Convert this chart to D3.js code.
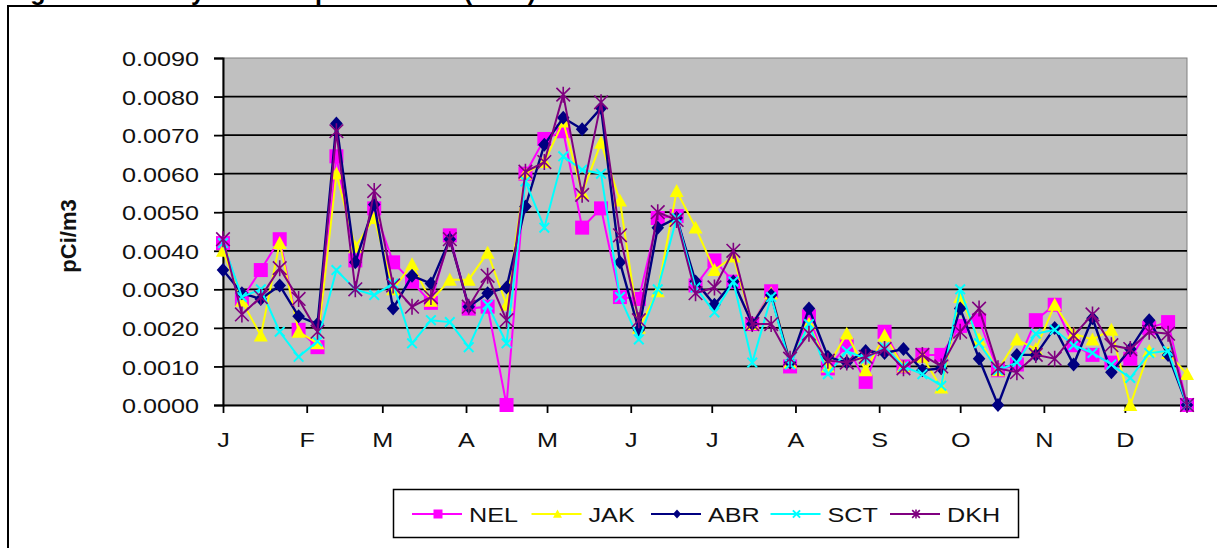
<!DOCTYPE html>
<html><head><meta charset="utf-8">
<script src="https://cdn.jsdelivr.net/npm/d3@7"></script>
<style>body{margin:0;background:#fff}svg{display:block}</style>
</head><body><svg id="c" width="1217" height="548"></svg>
<script>
// ---- data (pCi/m3), weekly samples ----
const dates = ["2003-01-01","2003-01-08","2003-01-15","2003-01-22","2003-01-29","2003-02-05","2003-02-12","2003-02-19","2003-02-26",
"2003-03-05","2003-03-12","2003-03-19","2003-03-26","2003-04-02","2003-04-09","2003-04-16","2003-04-23","2003-04-30",
"2003-05-07","2003-05-14","2003-05-21","2003-05-28","2003-06-04","2003-06-11","2003-06-18","2003-06-25",
"2003-07-02","2003-07-09","2003-07-16","2003-07-23","2003-07-30","2003-08-06","2003-08-13","2003-08-20","2003-08-27",
"2003-09-03","2003-09-10","2003-09-17","2003-09-24","2003-10-01","2003-10-08","2003-10-15","2003-10-22","2003-10-29",
"2003-11-05","2003-11-12","2003-11-19","2003-11-26","2003-12-03","2003-12-10","2003-12-17","2003-12-24"];
const NEL = [0.0042,0.00275,0.0035,0.0043,0.00195,0.0015,0.00645,0.00375,0.0051,0.0037,0.0032,0.00265,0.0044,0.0025,0.00255,0.0000,0.0060,0.0069,
0.0071,0.0046,0.0051,0.0028,0.00275,0.00485,0.0049,0.0031,0.00375,0.0032,0.0021,0.00295,0.0010,0.0023,0.00095,0.00155,0.0006,
0.0019,0.0010,0.0013,0.0013,0.00205,0.0022,0.0009,0.00105,0.0022,0.0026,0.00155,0.0013,0.0011,0.0012,0.0020,0.00215,0.0000];
const JAK = [0.0040,0.0027,0.0018,0.0042,0.0019,0.0016,0.0060,0.0041,0.00485,0.0030,0.00365,0.0027,0.00325,0.00325,0.00395,0.0026,0.0060,0.0063,
0.00735,0.0055,0.0068,0.0053,0.0020,0.00295,0.00555,0.0046,0.0035,0.00385,0.0021,0.0029,0.0011,0.0021,0.0010,0.00185,0.0009,
0.0018,0.0010,0.00125,0.00045,0.0028,0.0017,0.0009,0.0017,0.00145,0.0026,0.00185,0.0017,0.00195,0.0000,0.0014,0.00135,0.0008];
const ABR = [0.0035,0.0029,0.00275,0.0031,0.0023,0.0021,0.0073,0.0037,0.0052,0.0025,0.00335,0.00315,0.0043,0.00255,0.0029,0.00305,0.00515,0.00675,
0.00745,0.00715,0.0077,0.0037,0.00195,0.0046,0.00485,0.0032,0.0026,0.0032,0.0021,0.00285,0.0011,0.0025,0.00125,0.0011,0.0014,
0.00135,0.00145,0.0009,0.00095,0.0025,0.0012,0.0000,0.0013,0.0013,0.0020,0.00105,0.00225,0.00085,0.00145,0.0022,0.0013,0.0000];
const SCT = [0.0042,0.0028,0.0030,0.0019,0.00125,0.00165,0.0035,0.0030,0.00285,0.00315,0.0016,0.0022,0.00215,0.0015,0.0026,0.0016,0.0058,0.0046,
0.00645,0.0061,0.0060,0.0028,0.0017,0.0030,0.00485,0.00305,0.0024,0.0032,0.0011,0.0028,0.00105,0.0021,0.0008,0.0014,0.0012,
0.0015,0.0010,0.0008,0.0005,0.0030,0.0016,0.0009,0.0011,0.00185,0.00195,0.00155,0.00135,0.00105,0.0007,0.00135,0.0014,0.0000];
const DKH = [0.0043,0.00235,0.0028,0.00355,0.00275,0.0019,0.0071,0.0030,0.00555,0.0031,0.00255,0.0028,0.0043,0.00255,0.00335,0.0022,0.00605,0.0063,
0.00805,0.00545,0.00785,0.0044,0.0022,0.0050,0.0048,0.0029,0.00305,0.0040,0.0021,0.0021,0.0012,0.00185,0.00115,0.0011,0.00125,
0.00145,0.00095,0.0013,0.0010,0.0019,0.0025,0.00095,0.00085,0.0013,0.0012,0.0018,0.00235,0.00155,0.00145,0.0019,0.00185,0.0000];
const seriesNames = ["NEL","JAK","ABR","SCT","DKH"];
const monthLabels = ["J","F","M","A","M","J","J","A","S","O","N","D"];
const yTickValues = [0,0.001,0.002,0.003,0.004,0.005,0.006,0.007,0.008,0.009];
const yTitle = "pCi/m3";
const chartTitle = "Figure 2. Weekly Gross Alpha Results (2003)";

// ---- styles ----
const seriesValues = [NEL,JAK,ABR,SCT,DKH];
const colors = ["#FF00FF","#FFFF00","#000080","#00FFFF","#800080"];
const markerTypes = ["square","triangle","diamond","x","star"];
const FONT = "'Liberation Sans', Arial, sans-serif";
const SX = 1.2; // horizontal stretch of text

const svg = d3.select("#c");
const parse = d3.timeParse("%Y-%m-%d");
const dts = dates.map(parse);

const L=223, R=1187, T=58, B=405;
const x = d3.scaleTime().domain([dts[0], dts[dts.length-1]]).range([L,R]);
const y = d3.scaleLinear().domain([0,0.009]).range([B,T]);

// title (mostly above the visible page, only descenders show)
svg.append("text").attr("x",8).attr("y",0).attr("font-family",FONT)
  .attr("font-weight","bold").attr("font-size",25).attr("fill","#000")
  .text(chartTitle);

// outer frame
svg.append("rect").attr("x",8).attr("y",6).attr("width",1400).attr("height",700)
  .attr("fill","#fff").attr("stroke","#000").attr("stroke-width",2);

// plot area
svg.append("rect").attr("x",L).attr("y",T).attr("width",R-L).attr("height",B-T)
  .attr("fill","#C0C0C0").attr("stroke","#808080").attr("stroke-width",1);

// gridlines
svg.append("g").selectAll("line").data(yTickValues.filter(v=>v>0 && v<0.009)).join("line")
  .attr("x1",L).attr("x2",R).attr("y1",d=>y(d)).attr("y2",d=>y(d))
  .attr("stroke","#000").attr("stroke-width",1.8);

// y axis
const ya = svg.append("g").attr("transform",`translate(${L},0)`)
  .call(d3.axisLeft(y).tickValues(yTickValues).tickFormat(d3.format(".4f")).tickSize(9).tickPadding(0));
ya.select(".domain").attr("stroke","#000").attr("stroke-width",2);
ya.selectAll(".tick line").attr("stroke","#000").attr("stroke-width",1.8);
ya.selectAll(".tick text").attr("font-family",FONT).attr("font-size",21).attr("fill","#111")
  .attr("x",-24/SX).attr("dy","0.36em").attr("transform",`scale(${SX},1)`);

// x axis
const xa = svg.append("g").attr("transform",`translate(0,${B})`)
  .call(d3.axisBottom(x).ticks(d3.timeMonth.every(1)).tickFormat(d=>monthLabels[d.getMonth()]).tickSize(8).tickSizeOuter(0));
xa.select(".domain").attr("stroke","#000").attr("stroke-width",2);
xa.selectAll(".tick line").attr("stroke","#000").attr("stroke-width",1.8);
xa.selectAll(".tick text").attr("font-family",FONT).attr("font-size",21).attr("fill","#111")
  .attr("y",42).attr("dy",0).attr("transform",`scale(${SX},1)`);

// y title
svg.append("text").attr("transform","translate(76,236) rotate(-90)")
  .attr("text-anchor","middle").attr("font-family",FONT).attr("font-weight","bold")
  .attr("font-size",22).attr("fill","#111").text(yTitle);

// markers
function drawMarker(g, type, cx, cy, s, color){
  const h=s/2;
  if(type==="square"){
    g.append("rect").attr("x",cx-h).attr("y",cy-h).attr("width",s).attr("height",s).attr("fill",color);
  } else if(type==="triangle"){
    g.append("path").attr("d",`M${cx},${cy-h}L${cx+h},${cy+h*0.85}L${cx-h},${cy+h*0.85}Z`).attr("fill",color);
  } else if(type==="diamond"){
    g.append("path").attr("d",`M${cx},${cy-h}L${cx+h*0.9},${cy}L${cx},${cy+h}L${cx-h*0.9},${cy}Z`).attr("fill",color);
  } else if(type==="x"){
    const k=h*0.8;
    g.append("path").attr("d",`M${cx-k},${cy-k}L${cx+k},${cy+k}M${cx-k},${cy+k}L${cx+k},${cy-k}`)
      .attr("stroke",color).attr("stroke-width",2).attr("fill","none");
  } else if(type==="star"){
    const k=h*0.85;
    g.append("path").attr("d",`M${cx-k},${cy-k}L${cx+k},${cy+k}M${cx-k},${cy+k}L${cx+k},${cy-k}M${cx},${cy-h}L${cx},${cy+h}`)
      .attr("stroke",color).attr("stroke-width",1.6).attr("fill","none");
  }
}

const line = d3.line().x((d,i)=>x(dts[i])).y(d=>y(d));
const sizes = [14,14,14,12,16];
seriesValues.forEach((vals,si)=>{
  const g = svg.append("g");
  g.append("path").datum(vals).attr("d",line).attr("fill","none")
    .attr("stroke",colors[si]).attr("stroke-width",si===2?2.4:2);
  vals.forEach((v,i)=>drawMarker(g, markerTypes[si], x(dts[i]), y(v), sizes[si], colors[si]));
});

// legend
const lg = svg.append("g");
lg.append("rect").attr("x",393.5).attr("y",489.5).attr("width",625).attr("height",48)
  .attr("fill","#fff").attr("stroke","#000").attr("stroke-width",1.5);
seriesNames.forEach((n,i)=>{
  const sx = 412 + i*119.5, cy = 514;
  lg.append("line").attr("x1",sx).attr("x2",sx+50).attr("y1",cy).attr("y2",cy)
    .attr("stroke",colors[i]).attr("stroke-width",2);
  drawMarker(lg, markerTypes[i], sx+26, cy, 9, colors[i]);
  lg.append("text").attr("transform",`translate(${sx+57},${cy+8}) scale(${SX},1)`)
    .attr("font-family",FONT).attr("font-size",21).attr("fill","#111").text(n);
});
</script></body></html>
